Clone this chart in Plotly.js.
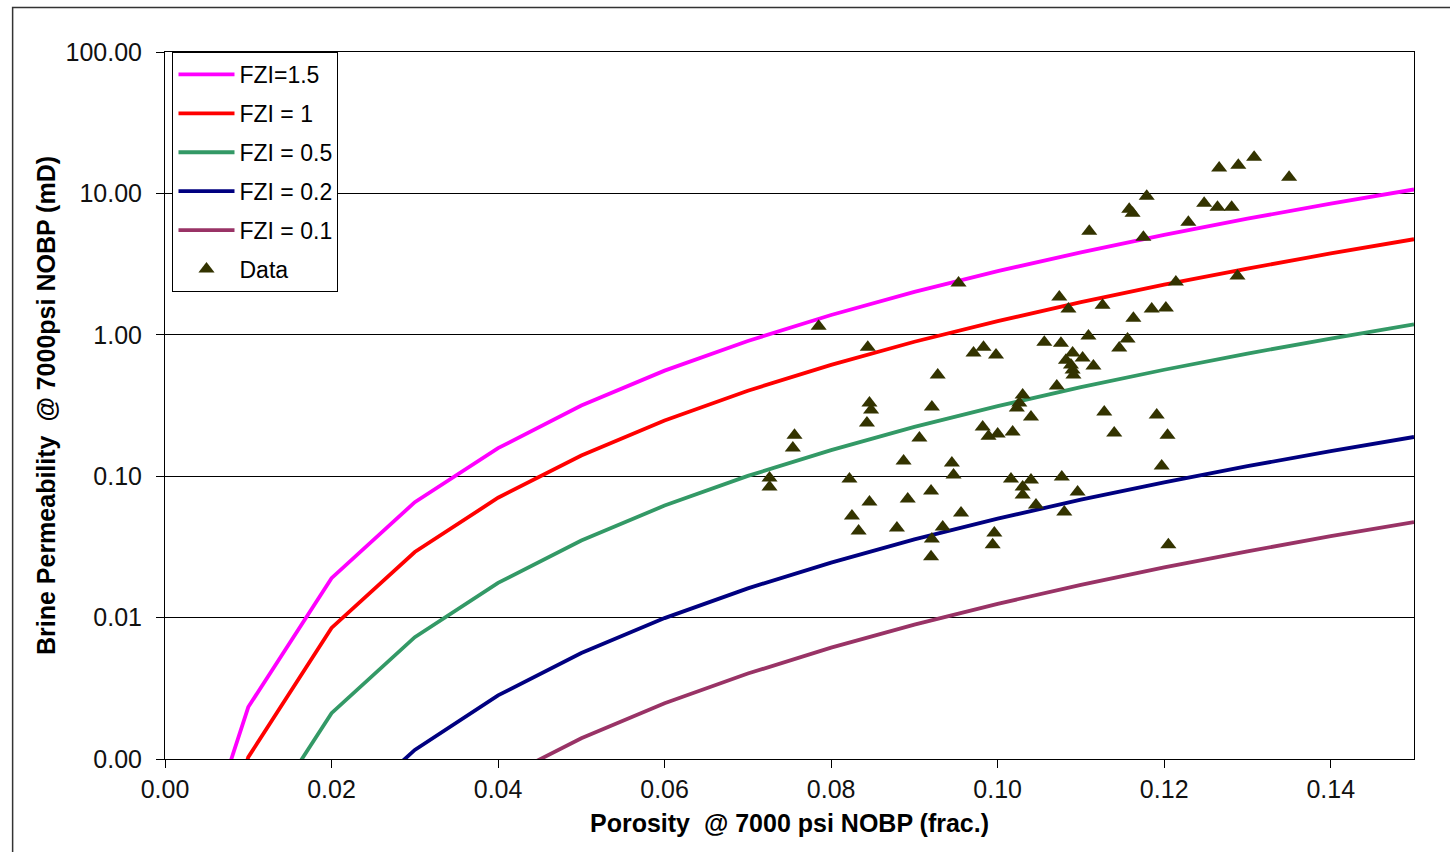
<!DOCTYPE html>
<html>
<head>
<meta charset="utf-8">
<script src="https://cdn.plot.ly/plotly-3.0.1.min.js"></script>
<style>
  html, body { margin: 0; padding: 0; background: #ffffff; }
  #chart { width: 1450px; height: 852px; }
</style>
</head>
<body>
<div id="chart"></div>
<script>
// Porosity grid of the FZI model curves
const porosity = [0.005, 0.01, 0.02, 0.03, 0.04, 0.05, 0.06, 0.07, 0.08, 0.09, 0.10, 0.11, 0.12, 0.13, 0.14, 0.15];
// Permeability (mD) along each FZI curve
const fzi15 = [0.00029, 0.00233, 0.0190, 0.0655, 0.158, 0.316, 0.558, 0.905, 1.38, 2.01, 2.82, 3.83, 5.09, 6.62, 8.46, 10.66];
const fzi10 = [0.000128, 0.00103, 0.00845, 0.0291, 0.0704, 0.140, 0.248, 0.402, 0.613, 0.893, 1.25, 1.70, 2.26, 2.94, 3.76, 4.74];
const fzi05 = [0.000032, 0.000259, 0.00211, 0.00727, 0.0176, 0.0351, 0.0620, 0.1005, 0.153, 0.223, 0.313, 0.426, 0.566, 0.736, 0.941, 1.184];
const fzi02 = [0.0000051, 0.0000414, 0.000338, 0.00116, 0.00282, 0.00562, 0.00992, 0.0161, 0.0245, 0.0357, 0.0501, 0.0682, 0.0905, 0.1177, 0.1505, 0.1895];
const fzi01 = [0.0000013, 0.0000103, 0.0000845, 0.000291, 0.000704, 0.00140, 0.00248, 0.00402, 0.00613, 0.00893, 0.01252, 0.01704, 0.02263, 0.02943, 0.03762, 0.04737];

const seriesNames = ['FZI=1.5', 'FZI = 1', 'FZI = 0.5', 'FZI = 0.2', 'FZI = 0.1'];

// Measured samples
const dataPhi = [0.1308, 0.1289, 0.1266, 0.1350, 0.1179, 0.1158, 0.1162, 0.1248, 0.1264, 0.1281,
                 0.1110, 0.1229, 0.1175, 0.0953, 0.1214, 0.1288, 0.1074, 0.1085, 0.1126, 0.1163,
                 0.1185, 0.1202, 0.0785, 0.0844, 0.0971, 0.0983, 0.0998, 0.1056, 0.1076, 0.1109,
                 0.1156, 0.1146, 0.1090, 0.1102, 0.1082, 0.1088, 0.1090, 0.1091, 0.1115, 0.1071,
                 0.0928, 0.0846, 0.0848, 0.0843, 0.0921, 0.0756, 0.0754, 0.1030, 0.1026, 0.1023,
                 0.1040, 0.0982, 0.0989, 0.1000, 0.1018, 0.0906, 0.1128, 0.1191, 0.1140, 0.1204,
                 0.0887, 0.0945, 0.0947, 0.1197, 0.0726, 0.0726, 0.0822, 0.1016, 0.1040, 0.1077,
                 0.1030, 0.1030, 0.0920, 0.0892, 0.0846, 0.1096, 0.0956, 0.0825, 0.1046, 0.1080,
                 0.0833, 0.0879, 0.0934, 0.0921, 0.0996, 0.0994, 0.0920, 0.1205];
const dataK =   [18.0, 15.8, 15.1, 13.0, 9.55, 7.73, 7.25, 8.52, 7.99, 7.99,
                 5.40, 6.26, 4.90, 2.32, 2.36, 2.60, 1.85, 1.52, 1.62, 1.31,
                 1.52, 1.55, 1.15, 0.818, 0.743, 0.818, 0.719, 0.887, 0.873, 0.979,
                 0.933, 0.805, 0.743, 0.684, 0.662, 0.611, 0.563, 0.519, 0.601, 0.434,
                 0.519, 0.329, 0.294, 0.238, 0.308, 0.195, 0.158, 0.375, 0.329, 0.303,
                 0.262, 0.223, 0.192, 0.199, 0.205, 0.186, 0.284, 0.271, 0.202, 0.195,
                 0.128, 0.124, 0.102, 0.118, 0.0971, 0.0839, 0.0955, 0.0955, 0.094, 0.0987,
                 0.0839, 0.0736, 0.0786, 0.069, 0.0658, 0.0773, 0.055, 0.0524, 0.0625, 0.0558,
                 0.041, 0.043, 0.0438, 0.036, 0.0397, 0.0327, 0.0269, 0.0327];

const yTickVals = [0.001, 0.01, 0.1, 1, 10, 100];
const yTickText = ['0.00', '0.01', '0.10', '1.00', '10.00', '100.00'];

const curveColors = ['#FF00FF', '#FF0000', '#339966', '#000080', '#993366'];
const curves = [fzi15, fzi10, fzi05, fzi02, fzi01];

const traces = curves.map((k, i) => ({
  type: 'scatter', mode: 'lines', x: porosity, y: k, name: seriesNames[i],
  legendgroup: 'g' + i,
  line: { color: curveColors[i], width: 3.8 }
}));
traces.push({
  type: 'scatter', mode: 'markers', x: dataPhi, y: dataK, name: 'Data',
  legendgroup: 'g5',
  marker: { symbol: 'triangle-up', size: 14, color: '#333300', line: { width: 0 } }
});

const FONT = 'Arial, "Liberation Sans", sans-serif';

const layout = {
  width: 1450, height: 852,
  margin: { l: 165, r: 36, t: 52, b: 93 },
  paper_bgcolor: '#ffffff', plot_bgcolor: '#ffffff',
  font: { family: FONT, size: 25, color: '#111111' },
  showlegend: true,
  legend: {
    x: 0.006, y: 1, xanchor: 'left', yanchor: 'top',
    bgcolor: '#ffffff', bordercolor: '#000000', borderwidth: 1,
    font: { family: FONT, size: 23, color: '#000000' },
    traceorder: 'grouped', tracegroupgap: 6, itemwidth: 56
  },
  xaxis: {
    range: [0, 0.15], dtick: 0.02, tick0: 0, tickformat: '.2f',
    showgrid: false, zeroline: false,
    showline: true, linecolor: '#000000', linewidth: 1, mirror: true,
    ticks: 'outside', ticklen: 8, tickcolor: '#000000',
    tickfont: { family: FONT, size: 25, color: '#111111' },
    title: { text: 'Porosity\u00a0 @ 7000 psi NOBP (frac.)', font: { family: FONT, size: 25, color: '#000000', weight: 'bold' }, standoff: 12 }
  },
  yaxis: {
    type: 'log', range: [-3, 2],
    tickvals: yTickVals, ticktext: yTickText,
    showgrid: true, gridcolor: '#000000', gridwidth: 1,
    zeroline: false,
    showline: true, linecolor: '#000000', linewidth: 1, mirror: true,
    ticks: 'outside', ticklen: 8, tickcolor: '#000000',
    ticklabelstandoff: 9,
    tickfont: { family: FONT, size: 25, color: '#111111' },
    title: { text: 'Brine Permeability\u00a0 @ 7000psi NOBP (mD)', font: { family: FONT, size: 25, color: '#000000', weight: 'bold' }, standoff: 2 }
  },
  shapes: [{
    type: 'rect', xref: 'paper', yref: 'paper',
    x0: -0.122, x1: 1.1, y0: -0.2, y1: 1.063,
    line: { color: '#333333', width: 1.5 }, fillcolor: 'rgba(0,0,0,0)', layer: 'below'
  }]
};

Plotly.newPlot('chart', traces, layout, { displayModeBar: false, staticPlot: true });
</script>
</body>
</html>
